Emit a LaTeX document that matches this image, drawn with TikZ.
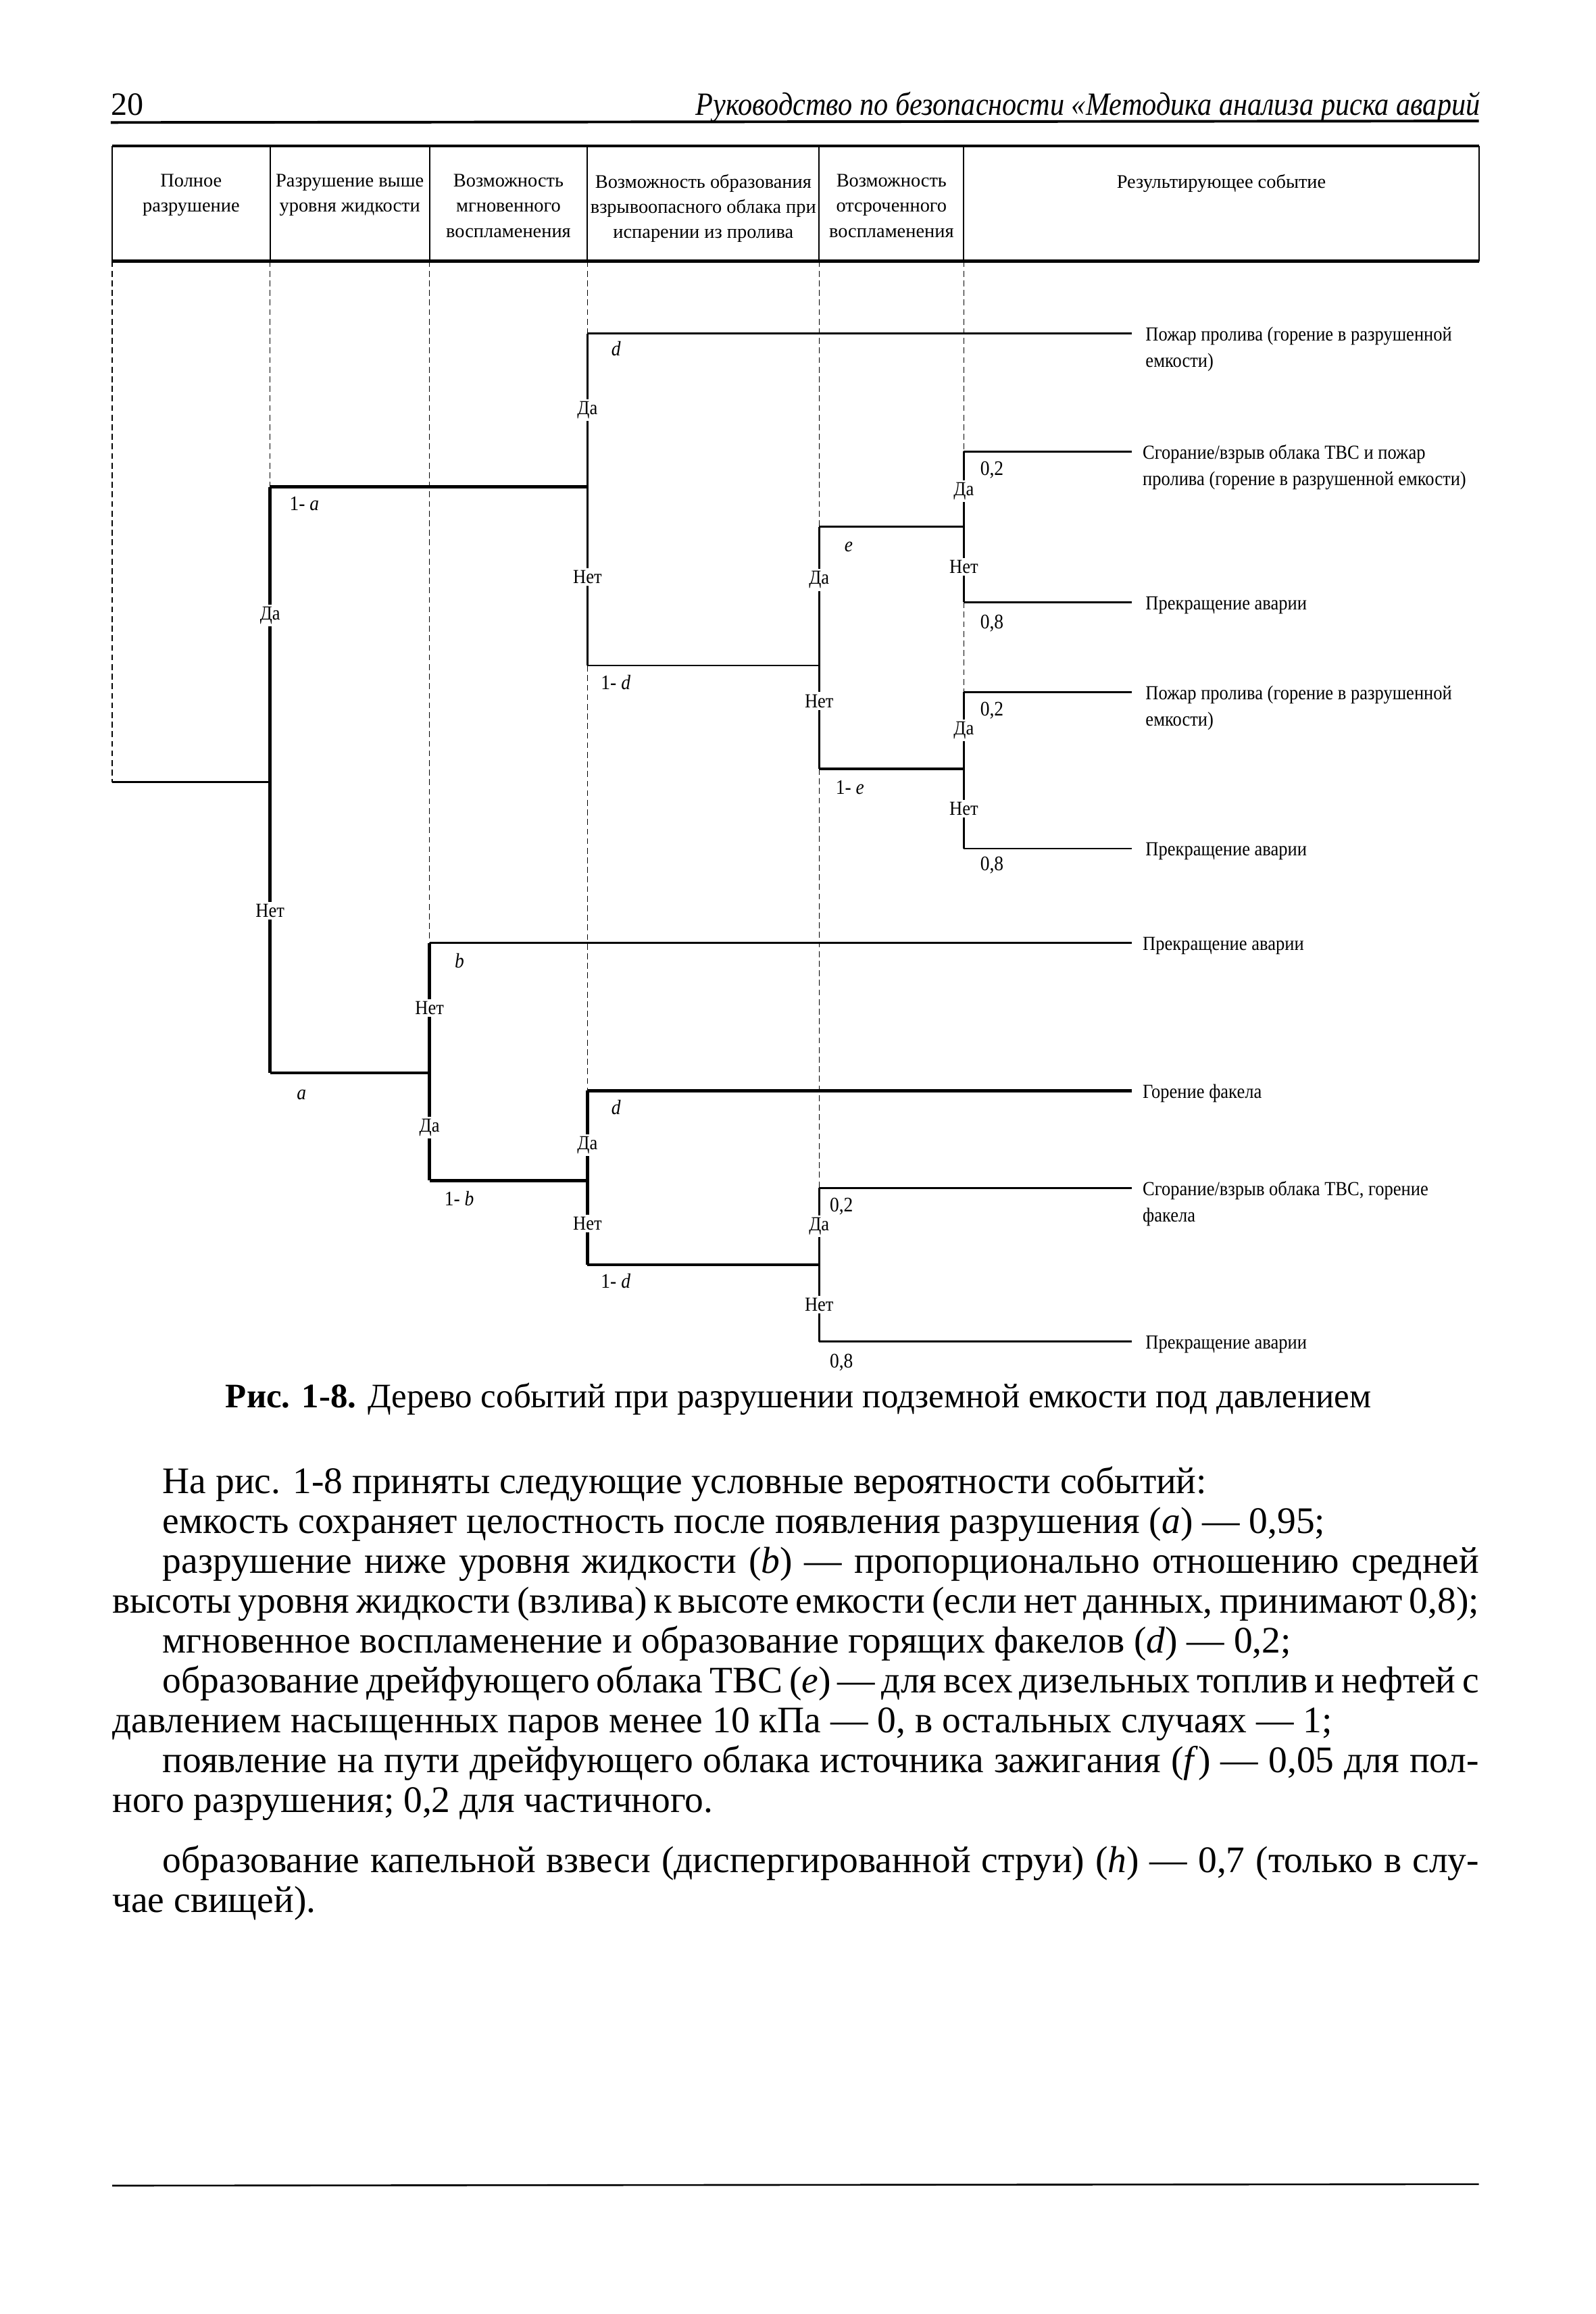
\documentclass[tikz,border=0pt]{standalone}
\usepackage{fontspec}
\setmainfont{Liberation Serif}
\newfontfamily\condf[FakeStretch=0.9]{Liberation Serif}
\newfontfamily\headf[FakeStretch=0.88]{Liberation Serif}
\tikzset{
  thk/.style={line width=2.2pt},
  med/.style={line width=1.2pt},
  guide/.style={line width=0.6pt, dash pattern=on 4pt off 2.5pt},
  tbl/.style={line width=0.9pt},
  tblh/.style={line width=2pt},
  lbl/.style={font=\condf\fontsize{14}{16}\selectfont, inner sep=0pt, anchor=base west},
  yn/.style={font=\condf\fontsize{13.5}{16}\selectfont, fill=white, inner sep=1.5pt},
  res/.style={font=\condf\fontsize{13.5}{18}\selectfont, inner sep=0pt, anchor=base west},
  hdr/.style={font=\fontsize{13}{17}\selectfont, align=center, anchor=north, inner sep=0pt},
  body/.style={font=\fontsize{25.4}{27}\selectfont, inner sep=0pt, anchor=base west},
}
\begin{document}
\begin{tikzpicture}[x=1pt,y=-1pt]
\useasboundingbox[fill=white] (0,0) rectangle (1081,1568);

% ---------- running head ----------
\node[anchor=base west, font=\fontsize{22}{24}\selectfont, inner sep=0pt] (pgnum) at (75,78) {20};
\node[anchor=base east, font=\headf\fontsize{22}{24}\selectfont\itshape, inner sep=0pt] (runhead) at (1003,78) {Руководство по безопасности «Методика анализа риска аварий};
\coordinate (hl) at (75,83);
\coordinate (hr) at (1002,82);
\draw[line width=1.8pt] (hl) -- (hr);

% ---------- table ----------
\coordinate (tTL) at (76,99);  \coordinate (tTR) at (1002,99);
\coordinate (tBL) at (76,177); \coordinate (tBR) at (1002,177);
\draw[tblh] (tTL) -- (tTR);
\draw[tblh] (tBL) -- (tBR);
\draw[tbl] (tTL) -- (tBL);
\draw[tbl] (tTR) -- (tBR);
\foreach \cx in {183,291,398,555,653} {
  \draw[tbl] (\cx,99) -- (\cx,177);
}
\node[hdr] (h1) at (129.5,118) {Полное\\разрушение};
\node[hdr] (h2) at (237,118) {Разрушение выше\\уровня жидкости};
\node[hdr] (h3) at (344.5,118) {Возможность\\мгновенного\\воспламенения};
\node[hdr] (h4) at (476.5,118) {Возможность образования\\взрывоопасного облака при\\испарении из пролива};
\node[hdr] (h5) at (604,118) {Возможность\\отсроченного\\воспламенения};
\node[hdr] (h6) at (827.5,118) {Результирующее событие};

% ---------- guide lines (dashed) ----------
\draw[guide] (76,177) -- (76,530);
\draw[guide] (183,177) -- (183,330);
\draw[guide] (291,177) -- (291,639);
\draw[guide] (398,177) -- (398,226);
\draw[guide] (398,451) -- (398,739);
\draw[guide] (555,177) -- (555,357);
\draw[guide] (555,521) -- (555,805);
\draw[guide] (653,177) -- (653,306);
\draw[guide] (653,408) -- (653,469);

% ---------- tree coordinates ----------
\coordinate (root) at (76,530);
\coordinate (A)  at (183,530);
\coordinate (At) at (183,330);
\coordinate (Ab) at (183,727);
\coordinate (B1) at (398,330);
\coordinate (B1t) at (398,226);
\coordinate (B1b) at (398,451);
\coordinate (C1) at (555,451);
\coordinate (C1t) at (555,357);
\coordinate (C1b) at (555,521);
\coordinate (E1) at (653,357);
\coordinate (E1t) at (653,306);
\coordinate (E1b) at (653,408);
\coordinate (E2) at (653,521);
\coordinate (E2t) at (653,469);
\coordinate (E2b) at (653,575);
\coordinate (B2) at (291,727);
\coordinate (B2t) at (291,639);
\coordinate (B2b) at (291,800);
\coordinate (D2) at (398,800);
\coordinate (D2t) at (398,739);
\coordinate (D2b) at (398,857);
\coordinate (F2) at (555,857);
\coordinate (F2t) at (555,805);
\coordinate (F2b) at (555,909);
% outcome ends
\coordinate (o1) at (767,226);
\coordinate (o2) at (767,306);
\coordinate (o3) at (767,408);
\coordinate (o4) at (767,469);
\coordinate (o5) at (767,575);
\coordinate (o6) at (767,639);
\coordinate (o7) at (767,739);
\coordinate (o8) at (767,805);
\coordinate (o9) at (767,909);

% ---------- tree lines ----------
\draw[med] (root) -- (A);
\draw[thk] (At) -- (Ab);
\draw[thk] (At) -- (B1);
\draw[thk] (Ab) -- (B2);
% upper part
\draw[med] (B1t) -- (B1b);
\draw[med] (B1t) -- (o1);
\draw[med] (B1b) -- (C1);
\draw[med] (C1t) -- (C1b);
\draw[med] (C1t) -- (E1);
\draw[med, line width=1.5pt] (C1b) -- (E2);
\draw[med] (E1t) -- (E1b);
\draw[med] (E1t) -- (o2);
\draw[med] (E1b) -- (o3);
\draw[med] (E2t) -- (E2b);
\draw[med] (E2t) -- (o4);
\draw[med] (E2b) -- (o5);
% lower part
\draw[thk] (B2t) -- (B2b);
\draw[med] (B2t) -- (o6);
\draw[thk] (B2b) -- (D2);
\draw[thk] (D2t) -- (D2b);
\draw[thk] (D2t) -- (o7);
\draw[thk] (D2b) -- (F2);
\draw[med] (F2t) -- (F2b);
\draw[med] (F2t) -- (o8);
\draw[med] (F2b) -- (o9);

% ---------- yes/no labels ----------
\node[yn] (yA) at (183,417) {Да};
\node[yn] (nA) at (183,617) {Нет};
\node[yn] (yB1) at (398,278) {Да};
\node[yn] (nB1) at (398,391) {Нет};
\node[yn] (yC1) at (555,393) {Да};
\node[yn] (nC1) at (555,475) {Нет};
\node[yn] (yE1) at (653,333) {Да};
\node[yn] (nE1) at (653,384) {Нет};
\node[yn] (yE2) at (653,495) {Да};
\node[yn] (nE2) at (653,548) {Нет};
\node[yn] (nB2) at (291,683) {Нет};
\node[yn] (yB2) at (291,764) {Да};
\node[yn] (yD2) at (398,776) {Да};
\node[yn] (nD2) at (398,829) {Нет};
\node[yn] (yF2) at (555,831) {Да};
\node[yn] (nF2) at (555,884) {Нет};

% ---------- probability labels ----------
\node[lbl] (p1a) at (196,346) {1- \textit{a}};
\node[lbl] (pa) at (201,745) {\textit{a}};
\node[lbl] (pd1) at (414,241) {\textit{d}};
\node[lbl] (p1d1) at (407,467) {1- \textit{d}};
\node[lbl] (pe) at (572,374) {\textit{e}};
\node[lbl] (p1e) at (566,538) {1- \textit{e}};
\node[lbl] (p02a) at (664,322) {0,2};
\node[lbl] (p08a) at (664,426) {0,8};
\node[lbl] (p02b) at (664,485) {0,2};
\node[lbl] (p08b) at (664,590) {0,8};
\node[lbl] (pb) at (308,656) {\textit{b}};
\node[lbl] (p1b) at (301,817) {1- \textit{b}};
\node[lbl] (pd2) at (414,755) {\textit{d}};
\node[lbl] (p1d2) at (407,873) {1- \textit{d}};
\node[lbl] (p02c) at (562,821) {0,2};
\node[lbl] (p08c) at (562,927) {0,8};

% ---------- outcomes ----------
\node[res] (r1a) at (776,231) {Пожар пролива (горение в разрушенной};
\node[res] (r1b) at (776,249) {емкости)};
\node[res] (r2a) at (774,311) {Сгорание/взрыв облака ТВС и пожар};
\node[res] (r2b) at (774,329) {пролива (горение в разрушенной емкости)};
\node[res] (r3) at (776,413) {Прекращение аварии};
\node[res] (r4a) at (776,474) {Пожар пролива (горение в разрушенной};
\node[res] (r4b) at (776,492) {емкости)};
\node[res] (r5) at (776,580) {Прекращение аварии};
\node[res] (r6) at (774,644) {Прекращение аварии};
\node[res] (r7) at (774,744) {Горение факела};
\node[res] (r8a) at (774,810) {Сгорание/взрыв облака ТВС, горение};
\node[res] (r8b) at (774,828) {факела};
\node[res] (r9) at (776,914) {Прекращение аварии};

% ---------- caption ----------
\node[anchor=base, font=\fontsize{23.3}{25}\selectfont, inner sep=0pt] (caption) at (541,954)
  {\textbf{Рис. 1-8.} Дерево событий при разрушении подземной емкости под давлением};

% ---------- body text ----------
\node[body] (l1) at (110,1012) {На рис. 1-8 приняты следующие условные вероятности событий:};
\node[body] (l2) at (110,1039) {емкость сохраняет целостность после появления разрушения (\textit{a}) — 0,95;};
\node[body] (l3) at (110,1066) {\makebox[892pt][s]{разрушение ниже уровня жидкости (\textit{b}) — пропорционально отношению средней}};
\node[body] (l4) at (76,1093) {\makebox[926pt][s]{высоты уровня жидкости (взлива) к высоте емкости (если нет данных, принимают 0,8);}};
\node[body] (l5) at (110,1120) {мгновенное воспламенение и образование горящих факелов (\textit{d}) — 0,2;};
\node[body] (l6) at (110,1147) {\makebox[892pt][s]{образование дрейфующего облака ТВС (\textit{e}) — для всех дизельных топлив и нефтей с}};
\node[body] (l7) at (76,1174) {давлением насыщенных паров менее 10 кПа — 0, в остальных случаях — 1;};
\node[body] (l8) at (110,1201) {\makebox[892pt][s]{появление на пути дрейфующего облака источника зажигания (\textit{f}) — 0,05 для пол-}};
\node[body] (l9) at (76,1228) {ного разрушения; 0,2 для частичного.};
\node[body] (l10) at (110,1269) {\makebox[892pt][s]{образование капельной взвеси (диспергированной струи) (\textit{h}) — 0,7 (только в слу-}};
\node[body] (l11) at (76,1296) {чае свищей).};

% ---------- foot rule ----------
\coordinate (fl) at (76,1481);
\coordinate (fr) at (1002,1480);
\draw[line width=1.2pt] (fl) -- (fr);
\end{tikzpicture}
\end{document}
